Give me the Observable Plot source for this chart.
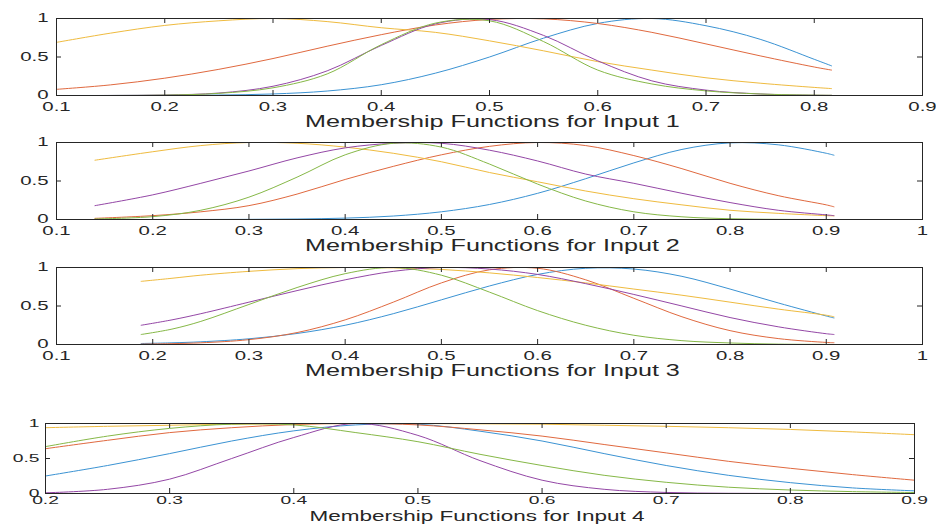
<!DOCTYPE html>
<html><head><meta charset="utf-8">
<script src="https://cdn.jsdelivr.net/npm/d3@7"></script>
<script src="https://cdn.jsdelivr.net/npm/@observablehq/plot@0.6"></script>
<style>
body{margin:0;background:#fff;}
#chart{position:relative;width:936px;height:527px;overflow:hidden;background:#fff;}
#chart svg{position:absolute;left:0;}
</style></head><body><div id="chart"></div>
<script>
const seriesNames = ["mf1","mf2","mf3","mf4","mf5"];
const seriesColors = ["#3b93d3","#e0693f","#efbb3f","#9447a6","#86b847"];
const yTicks = [0, 0.5, 1];
const yTickLabels = ["0", "0.5", "1"];

// Input 1
const xs1 = [0.1,0.15,0.2,0.25,0.3,0.35,0.4,0.45,0.5,0.55,0.6,0.65,0.7,0.75,0.8,0.816];
const blue1   = [0.0001,0.0003,0.0015,0.006,0.02,0.058,0.14,0.29,0.50,0.745,0.936,1.0,0.906,0.73,0.47,0.385];
const orange1 = [0.08,0.138,0.225,0.34,0.48,0.64,0.79,0.916,0.988,0.995,0.935,0.82,0.67,0.515,0.37,0.33];
const yellow1 = [0.69,0.81,0.91,0.97,1.0,0.96,0.88,0.82,0.71,0.58,0.44,0.33,0.23,0.16,0.105,0.09];
const purple1 = [0.0,0.0005,0.0065,0.032,0.12,0.32,0.65,0.93,0.986,0.78,0.45,0.19,0.07,0.02,0.004,0.002];
const green1  = [0.0,0.0003,0.005,0.028,0.10,0.28,0.66,0.94,0.97,0.70,0.33,0.15,0.06,0.02,0.005,0.003];
const xTicks1 = [0.1,0.2,0.3,0.4,0.5,0.6,0.7,0.8,0.9];
const xTickLabels1 = ["0.1","0.2","0.3","0.4","0.5","0.6","0.7","0.8","0.9"];

// Input 2
const xs2 = [0.14,0.2,0.25,0.3,0.35,0.4,0.45,0.5,0.55,0.6,0.65,0.7,0.75,0.8,0.85,0.9,0.908];
const blue2   = [0.0,0.0002,0.0006,0.002,0.0065,0.018,0.045,0.10,0.195,0.34,0.53,0.735,0.91,0.995,0.97,0.86,0.835];
const orange2 = [0.015,0.05,0.10,0.18,0.33,0.52,0.69,0.84,0.95,1.0,0.96,0.83,0.66,0.47,0.31,0.19,0.165];
const yellow2 = [0.77,0.88,0.96,1.0,0.99,0.94,0.86,0.75,0.61,0.49,0.37,0.27,0.19,0.12,0.08,0.05,0.047];
const purple2 = [0.18,0.32,0.47,0.63,0.80,0.93,0.99,0.99,0.90,0.76,0.59,0.47,0.34,0.22,0.12,0.06,0.05];
const green2  = [0.007,0.037,0.12,0.29,0.55,0.84,0.99,0.94,0.72,0.46,0.24,0.10,0.035,0.01,0.002,0.0,0.0];
const xTicks2 = [0.1,0.2,0.3,0.4,0.5,0.6,0.7,0.8,0.9,1];
const xTickLabels2 = ["0.1","0.2","0.3","0.4","0.5","0.6","0.7","0.8","0.9","1"];

// Input 3
const xs3 = [0.188,0.22,0.25,0.3,0.35,0.4,0.45,0.5,0.55,0.6,0.65,0.7,0.75,0.8,0.85,0.9,0.908];
const blue3   = [0.013,0.022,0.035,0.074,0.143,0.25,0.40,0.58,0.76,0.91,0.99,0.98,0.885,0.72,0.54,0.37,0.345];
const orange3 = [0.005,0.011,0.022,0.063,0.155,0.32,0.55,0.80,0.97,0.99,0.84,0.60,0.36,0.18,0.077,0.027,0.023];
const yellow3 = [0.82,0.86,0.90,0.95,0.985,1.0,0.995,0.975,0.93,0.87,0.80,0.72,0.64,0.55,0.46,0.38,0.36];
const purple3 = [0.25,0.32,0.40,0.55,0.70,0.84,0.95,1.0,0.98,0.91,0.79,0.65,0.50,0.35,0.23,0.14,0.13];
const green3  = [0.13,0.20,0.30,0.52,0.74,0.92,1.0,0.90,0.68,0.44,0.25,0.12,0.05,0.02,0.005,0.001,0.0];
const xTicks3 = [0.1,0.2,0.3,0.4,0.5,0.6,0.7,0.8,0.9,1];
const xTickLabels3 = ["0.1","0.2","0.3","0.4","0.5","0.6","0.7","0.8","0.9","1"];

// Input 4
const xs4 = [0.2,0.25,0.3,0.35,0.4,0.45,0.5,0.55,0.6,0.65,0.7,0.75,0.8,0.85,0.9];
const blue4   = [0.25,0.40,0.57,0.75,0.895,0.98,0.99,0.89,0.75,0.57,0.40,0.26,0.155,0.08,0.038];
const orange4 = [0.64,0.76,0.87,0.94,0.985,1.0,0.98,0.91,0.82,0.70,0.58,0.46,0.36,0.27,0.19];
const yellow4 = [0.94,0.96,0.975,0.99,0.997,1.0,1.0,0.995,0.99,0.975,0.96,0.94,0.915,0.88,0.84];
const purple4 = [0.01,0.06,0.205,0.50,0.80,1.0,0.83,0.47,0.19,0.06,0.015,0.003,0.0,0.0,0.0];
const green4  = [0.67,0.82,0.93,0.99,0.98,0.87,0.74,0.56,0.40,0.26,0.16,0.09,0.05,0.027,0.014];
const xTicks4 = [0.2,0.3,0.4,0.5,0.6,0.7,0.8,0.9];
const xTickLabels4 = ["0.2","0.3","0.4","0.5","0.6","0.7","0.8","0.9"];

const titles = ["Membership Functions for Input 1","Membership Functions for Input 2","Membership Functions for Input 3","Membership Functions for Input 4"];

function panel(cfg) {
  const rows = [];
  cfg.series.forEach((vals, si) => vals.forEach((v, i) => rows.push({x: cfg.xs[i], y: v, s: seriesNames[si]})));
  const innerW = 936 - cfg.mL - cfg.mR, innerH = cfg.height - cfg.mT - cfg.mB;
  const ink = "#262626";
  const plot = Plot.plot({
    width: 936, height: cfg.height,
    marginLeft: cfg.mL, marginRight: cfg.mR, marginTop: cfg.mT, marginBottom: cfg.mB,
    style: {fontFamily: "'Liberation Sans', Arial, sans-serif", fontSize: cfg.tickFont + "px", color: ink, background: "transparent"},
    x: {domain: cfg.xDomain},
    y: {domain: [0, 1]},
    color: {domain: seriesNames, range: seriesColors},
    marks: [
      Plot.line(rows, {x: "x", y: "y", stroke: "s", z: "s", curve: "catmull-rom", strokeWidth: 1, clip: true}),
      Plot.frame({stroke: ink, strokeWidth: 1}),
      Plot.tickX(cfg.xTicks, {x: d => d, insetTop: innerH - 5, stroke: ink}),
      Plot.tickX(cfg.xTicks, {x: d => d, insetBottom: innerH - 5, stroke: ink}),
      Plot.tickY(yTicks, {y: d => d, insetRight: innerW - 5, stroke: ink}),
      Plot.tickY(yTicks, {y: d => d, insetLeft: innerW - 5, stroke: ink}),
      Plot.axisX({ticks: cfg.xTicks, tickSize: 0, tickPadding: cfg.tickPad, tickFormat: d => cfg.xTickLabels[cfg.xTicks.indexOf(d)], label: null}),
      Plot.axisY({ticks: yTicks, tickSize: 0, tickPadding: cfg.yPad, tickFormat: d => yTickLabels[yTicks.indexOf(d)], label: null}),
      Plot.text([cfg.title], {frameAnchor: "bottom", dy: cfg.titleDy, dx: cfg.titleDx, lineAnchor: "middle", fontSize: cfg.titleFont, fill: ink})
    ]
  });
  plot.style.top = cfg.top + "px";
  plot.querySelectorAll("text").forEach(t => {
    const g = t.closest("g");
    const lab = g ? (g.getAttribute("aria-label") || "") : "";
    const s = lab.includes("tick label") ? cfg.tickScale : cfg.titleScale;
    const x = parseFloat(t.getAttribute("x") || 0);
    const tr = t.getAttribute("transform") || "";
    t.setAttribute("transform", `${tr} translate(${x},0) scale(${s},1) translate(${-x},0)`);
  });
  document.getElementById("chart").appendChild(plot);
}

const common = {height: 134, mL: 56, mR: 14, mT: 18, mB: 39, tickFont: 12, titleFont: 17, titleDy: 26, titleDx: 3, tickPad: 7, yPad: 8, tickScale: 1.7, titleScale: 1.48};
panel({...common, top: 0, xs: xs1, series: [blue1, orange1, yellow1, purple1, green1], xDomain: [0.1, 0.9], xTicks: xTicks1, xTickLabels: xTickLabels1, title: titles[0]});
panel({...common, top: 124, xs: xs2, series: [blue2, orange2, yellow2, purple2, green2], xDomain: [0.1, 1], xTicks: xTicks2, xTickLabels: xTickLabels2, title: titles[1]});
panel({...common, top: 249, xs: xs3, series: [blue3, orange3, yellow3, purple3, green3], xDomain: [0.1, 1], xTicks: xTicks3, xTickLabels: xTickLabels3, title: titles[2]});
panel({height: 122, mL: 45, mR: 22, mT: 18, mB: 34, tickFont: 11, titleFont: 15, titleDy: 23, titleDx: -3, tickPad: 3, yPad: 6, tickScale: 1.75, titleScale: 1.5,
  top: 405, xs: xs4, series: [blue4, orange4, yellow4, purple4, green4], xDomain: [0.2, 0.9], xTicks: xTicks4, xTickLabels: xTickLabels4, title: titles[3]});
</script></body></html>
